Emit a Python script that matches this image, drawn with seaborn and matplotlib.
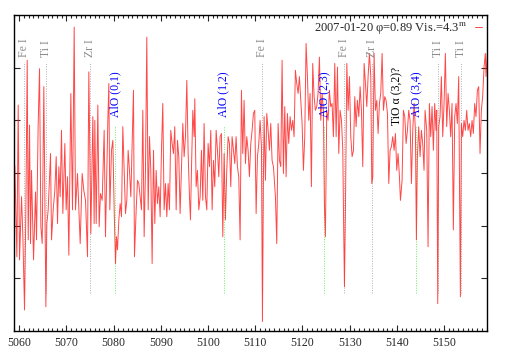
import numpy as np
import matplotlib
matplotlib.use("Agg")
import matplotlib.pyplot as plt
import seaborn as sns
import pandas as pd

# spectrum (wavelength in A, relative flux)
wavelength = [
    5058.52, 5059.08, 5059.51, 5059.79, 5060.07, 5060.50, 5060.78, 5061.13, 5061.41, 5061.70,
    5061.91, 5062.19, 5062.40, 5062.61, 5063.04, 5063.46, 5063.67, 5064.02, 5064.31, 5064.59,
    5064.87, 5065.22, 5065.65, 5065.86, 5066.14, 5066.64, 5066.85, 5067.20, 5067.55, 5067.84,
    5068.12, 5068.40, 5068.68, 5068.96, 5069.25, 5069.67, 5069.95, 5070.23, 5070.52, 5070.94,
    5071.29, 5071.65, 5071.93, 5072.35, 5072.92, 5073.34, 5073.69, 5074.05, 5074.47, 5074.75,
    5075.18, 5075.60, 5075.88,
    5076.02, 5076.31, 5076.66, 5076.94, 5077.22, 5077.58, 5078.00, 5078.28, 5078.57, 5078.78,
    5078.99, 5079.20, 5079.55, 5079.84, 5080.12, 5080.40, 5080.61, 5080.82, 5081.11, 5081.39,
    5081.67, 5081.95, 5082.23, 5082.52, 5082.80, 5083.08, 5083.36, 5083.65, 5083.93, 5084.21,
    5084.42, 5084.78, 5085.06, 5085.34, 5085.62, 5085.90, 5086.19, 5086.47, 5086.75, 5087.03,
    5087.32, 5087.60, 5087.88, 5088.16, 5088.45, 5088.73, 5089.01, 5089.29, 5089.57, 5089.86,
    5090.14, 5090.42, 5090.70, 5090.99, 5091.27, 5091.55, 5091.83, 5092.11, 5092.40, 5092.68,
    5092.96, 5093.25, 5093.53, 5093.81, 5094.09, 5094.38, 5094.66, 5094.94, 5095.22, 5095.51,
    5095.79, 5096.07, 5096.28, 5096.49, 5096.78, 5097.06, 5097.20, 5097.48, 5097.76, 5098.05,
    5098.33, 5098.61, 5098.89, 5099.17, 5099.46, 5099.74, 5100.02, 5100.30, 5100.59, 5100.87,
    5101.15, 5101.43, 5101.72, 5102.00, 5102.28, 5102.56, 5102.84, 5103.13, 5103.41, 5103.69,
    5103.97, 5104.26, 5104.54, 5104.82, 5105.10, 5105.39, 5105.67, 5105.95, 5106.23, 5106.51,
    5106.80, 5107.08, 5107.36, 5107.64, 5107.93, 5108.21, 5108.49, 5108.77, 5109.06, 5109.34,
    5109.62,
    5109.90, 5110.19, 5110.47, 5110.75, 5111.03, 5111.32, 5111.53, 5111.74, 5111.88, 5112.16,
    5112.45, 5112.73, 5113.01, 5113.29, 5113.57, 5113.86, 5114.28, 5114.56, 5114.85, 5115.13,
    5115.41, 5115.69, 5115.97, 5116.26, 5116.54, 5116.82, 5117.10, 5117.39, 5117.67, 5117.95,
    5118.23, 5118.51, 5118.80, 5119.08, 5119.36, 5119.64, 5119.93, 5120.21, 5120.49, 5120.77,
    5121.06, 5121.34, 5121.62, 5121.90, 5122.18, 5122.47, 5122.75, 5123.03, 5123.31, 5123.60,
    5123.88, 5124.16, 5124.44, 5124.65, 5124.87, 5125.15, 5125.43, 5125.71, 5126.00, 5126.28,
    5126.56,
    5126.85, 5127.14, 5127.42, 5127.70, 5127.98, 5128.27, 5128.55, 5128.69, 5128.90, 5129.11,
    5129.40, 5129.68, 5129.96, 5130.24, 5130.52, 5130.81, 5131.09, 5131.37, 5131.65, 5131.94,
    5132.22, 5132.50, 5132.78, 5133.07, 5133.35, 5133.63, 5133.91, 5134.19, 5134.48, 5134.69,
    5134.90, 5135.18, 5135.46, 5135.75, 5136.03, 5136.31, 5136.59, 5136.88, 5137.16, 5137.44,
    5137.72, 5138.01, 5138.29, 5138.57, 5138.85, 5139.13, 5139.42, 5139.70, 5139.98, 5140.26,
    5140.55, 5140.76, 5141.11, 5141.39, 5141.68, 5141.96, 5142.24, 5142.52, 5142.80, 5143.09,
    5143.37, 5143.65,
    5143.93, 5144.14, 5144.35, 5144.63, 5144.92, 5145.20, 5145.48, 5145.76, 5145.98, 5146.33,
    5146.61, 5146.89, 5147.18, 5147.46, 5147.74, 5148.02, 5148.30, 5148.45, 5148.66, 5148.87,
    5149.15, 5149.43, 5149.72, 5150.00, 5150.28, 5150.56, 5150.85, 5151.13, 5151.41, 5151.69,
    5151.97, 5152.26, 5152.54, 5152.82, 5153.10, 5153.46, 5153.67, 5153.95, 5154.23, 5154.51,
    5154.80, 5155.08, 5155.36, 5155.64, 5155.93, 5156.21, 5156.49, 5156.77, 5157.06, 5157.34,
    5157.62, 5157.90, 5158.18, 5158.47, 5158.75, 5158.89, 5159.17, 5159.45,
]
flux = [
    3.43, 3.12, 1.41, 4.29, 1.35, 2.55, 1.79, 0.40, 2.30, 5.14,
    1.73, 3.91, 1.66, 3.05, 1.35, 2.64, 1.73, 3.91, 4.98, 1.98,
    1.66, 4.64, 0.46, 2.04, 2.30, 3.37, 1.73, 2.30, 2.67, 3.31,
    2.04, 3.12, 2.55, 3.81, 2.23, 3.56, 2.30, 2.93, 1.44, 4.51,
    2.30, 5.77, 2.30, 2.99, 1.66, 2.99, 2.67, 2.48, 1.41, 4.92,
    1.85, 4.07, 2.04,
    4.00, 2.04, 4.29, 1.98, 2.61, 2.48, 3.81, 1.79, 3.12, 4.00,
    4.70, 2.30, 3.43, 3.62, 2.30, 1.28, 1.79, 1.54, 2.11, 2.42,
    2.17, 3.88, 3.05, 2.23, 2.48, 3.43, 3.05, 2.55, 3.56, 4.57,
    1.41, 2.30, 2.86, 2.80, 2.55, 2.30, 4.19, 1.79, 3.05, 5.58,
    2.30, 3.69, 3.05, 1.28, 3.43, 2.04, 3.05, 2.42, 2.74, 2.17,
    3.43, 4.32, 2.30, 2.80, 2.17, 2.80, 2.30, 3.81, 3.56, 3.37,
    3.88, 2.30, 3.62, 3.31, 2.23, 3.12, 3.94, 3.31, 3.69, 4.76,
    3.37, 2.55, 2.11, 3.05, 4.19, 3.69, 4.41, 2.74, 3.05, 2.30,
    2.55, 3.43, 2.48, 3.94, 2.55, 2.30, 3.56, 3.12, 3.81, 2.30,
    3.24, 2.74, 3.81, 3.43, 2.93, 3.69, 3.75, 1.79, 3.37, 2.11,
    3.05, 3.69, 3.56, 2.74, 3.69, 3.43, 3.18, 3.69, 3.12, 2.93,
    1.73, 4.57, 3.37, 4.38, 3.18, 3.69, 3.43, 2.93, 3.56, 3.81,
    4.13,
    4.19, 2.23, 3.31, 3.56, 4.00, 3.50, 0.18, 2.93, 4.07, 2.86,
    4.13, 3.81, 3.43, 3.94, 3.24, 3.12, 2.55, 1.66, 3.94, 3.24,
    3.12, 5.14, 2.99, 4.26, 2.93, 4.13, 3.56, 4.07, 3.81, 4.00,
    3.69, 4.95, 4.70, 4.51, 4.83, 4.38, 3.94, 3.05, 3.69, 5.46,
    4.83, 4.00, 4.51, 2.74, 5.08, 4.45, 4.19, 4.26, 4.51, 5.20,
    4.00, 4.51, 4.19, 2.42, 1.79, 4.19, 4.00, 4.57, 4.26, 4.32,
    3.69,
    5.08, 3.69, 5.01, 3.37, 4.19, 4.00, 3.43, 2.30, 0.84, 2.30,
    5.08, 4.19, 4.83, 3.69, 3.31, 3.43, 4.45, 3.88, 4.38, 4.07,
    4.64, 4.19, 3.12, 5.08, 4.70, 4.26, 4.83, 5.27, 4.83, 2.80,
    2.93, 5.27, 4.19, 4.38, 3.75, 4.32, 4.51, 5.27, 4.19, 4.45,
    4.38, 4.13, 2.80, 3.43, 3.50, 3.69, 3.43, 3.75, 3.05, 3.37,
    2.93, 2.48, 2.86, 4.19, 4.07, 3.56, 3.81, 4.19, 4.00, 2.80,
    3.81, 4.32,
    3.81, 1.73, 3.31, 3.88, 3.31, 3.81, 3.56, 3.05, 4.19, 3.81,
    1.60, 4.32, 3.69, 4.26, 3.43, 4.32, 3.81, 4.19, 0.52, 3.88,
    4.07, 4.83, 3.69, 4.32, 5.27, 3.88, 4.51, 4.19, 3.69, 4.32,
    1.92, 4.07, 4.32, 3.94, 4.83, 0.65, 3.94, 3.69, 4.00, 3.81,
    4.19, 3.81, 3.94, 3.69, 4.00, 3.75, 4.32, 4.07, 4.57, 4.64,
    3.37, 4.19, 4.45, 5.01, 5.27, 4.83, 5.27, 5.08,
]

# line identifications
atom_wl = [5061.1, 5065.7, 5075.0, 5111.5, 5128.9, 5134.7, 5148.7, 5153.5]
atom_lbl = ["Fe I", "Ti I", "Zr I", "Fe I", "Fe I", "Zr I", "Ti I", "Ti I"]
alo_wl = [5080.4, 5103.3, 5124.6, 5144.1]
alo_lbl = ["AlO (0,1)", "AlO (1,2)", "AlO (2,3)", "AlO (3,4)"]
tio_wl = [5140.0]
tio_lbl = ["TiO α (3,2)?"]

legend_lbl = "2007-01-20 φ=0.89 Vis.=4.3$^{\\mathrm{m}}$"

df = pd.DataFrame({"wl": wavelength, "flux": flux})

sns.set_style("ticks")
plt.rcParams["font.family"] = ["Liberation Serif", "DejaVu Serif"]
plt.rcParams["mathtext.fontset"] = "stix"

fig = plt.figure(figsize=(5.09, 3.56), dpi=100)
ax = fig.add_axes([0.0275, 0.0702, 0.9293, 0.8877])

sns.lineplot(data=df, x="wl", y="flux", ax=ax, color="#ff1a1a", lw=0.7,
             alpha=0.8, estimator=None, sort=False, label=legend_lbl)

for w, t in zip(atom_wl, atom_lbl):
    ax.plot([w, w], [0.72, 5.1], color="#b0b0b0", lw=0.7, ls=(0, (1, 1.5)), zorder=1)
    ax.text(w, 5.2, t, rotation=90, ha="center", va="bottom", fontsize=8.5, color="#8c8c8c")
for w, t in zip(alo_wl, alo_lbl):
    ax.plot([w, w], [0.72, 3.9], color="#66ee66", lw=0.7, ls=(0, (1, 1.5)), zorder=1)
    ax.text(w, 4.06, t, rotation=90, ha="center", va="bottom", fontsize=8.5, color="blue")
for w, t in zip(tio_wl, tio_lbl):
    ax.text(w, 3.91, t, rotation=90, ha="center", va="bottom", fontsize=8.5, color="black")

ax.set_xlim(5058.9, 5159.1)
ax.set_ylim(0, 6)
ax.set_xticks(np.arange(5060, 5151, 10))
ax.set_xticks(np.arange(5059, 5160, 1), minor=True)
ax.set_yticks([1, 2, 3, 4, 5])
ax.set_yticklabels([])
ax.tick_params(axis="both", which="both", direction="in", top=True, right=True,
               labelsize=8.5, pad=4, width=0.8)
ax.tick_params(axis="both", which="major", length=4.5)
ax.tick_params(axis="both", which="minor", length=2.2)
ax.set_xlabel("")
ax.set_ylabel("")
for s in ax.spines.values():
    s.set_linewidth(1.0)
    s.set_color("black")

ax.legend(loc="upper right", frameon=False, markerfirst=False, fontsize=9,
          handlelength=0.6, handletextpad=0.6, borderaxespad=0.2, borderpad=0.2)

fig.savefig("out.png", dpi=100)
